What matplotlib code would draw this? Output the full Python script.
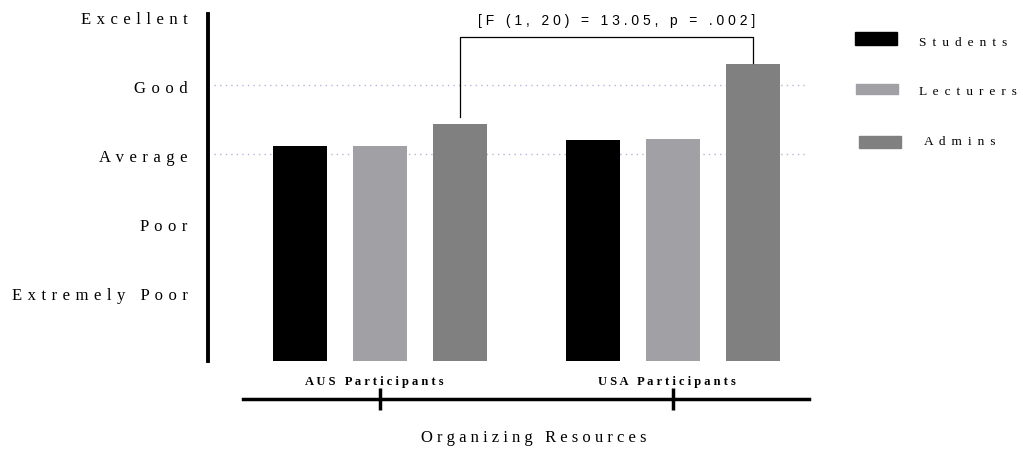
import matplotlib
matplotlib.use('Agg')
import matplotlib.pyplot as plt
from matplotlib.patches import Rectangle

# data
groups = ['AUS Participants', 'USA Participants']
series = ['Students', 'Lecturers', 'Admins']
colors = ['#000000', '#a1a1a5', '#808080']
values = {
    'Students': [3.11, 3.20],
    'Lecturers': [3.12, 3.22],
    'Admins': [3.43, 4.30],
}
rating_levels = [1, 2, 3, 4, 5]
rating_labels = ['Extremely Poor', 'Poor', 'Average', 'Good', 'Excellent']
stat_text = '[F (1, 20) = 13.05, p = .002]'
bracket_left, bracket_top, bracket_right = 3.54, 4.69, 4.32
x_title = 'Organizing Resources'

SERIF = 'Liberation Serif'
SANS = 'Liberation Sans'


def spaced(s, gap=' '):
    return gap.join(s)


fig = plt.figure(figsize=(10.23, 4.5), dpi=100)
ax = fig.add_axes([207.7 / 1023, 89.3 / 450, 601.3 / 1023, 346.7 / 450])

step = 80 / 293
width = 54 / 293
offsets = [-step, 0, step]
for name, col, off in zip(series, colors, offsets):
    xs = [g + off for g in range(len(groups))]
    ax.bar(xs, values[name], width=width, color=col, zorder=2)

ax.set_xlim(-0.588, 1.464)
ax.set_ylim(0, 5.03)

for lv in [3, 4]:
    ax.axhline(lv, xmin=0.01, xmax=0.995, color='#b4b4dc', lw=1.0,
               ls=(0, (1, 3)), zorder=1)

# spines
for s in ['top', 'right']:
    ax.spines[s].set_visible(False)
ax.spines['left'].set_linewidth(2.8)
ax.spines['bottom'].set_linewidth(2.5)
ax.spines['bottom'].set_position(('outward', 27.8))
ax.spines['bottom'].set_bounds(-0.468, 1.464)
ax.set_xticks(range(len(groups)))
ax.set_xticklabels([])
ax.tick_params(axis='x', direction='inout', length=15.8, width=2.5)
ax.set_yticks([])

# y labels
for lv, lab in zip(rating_levels, rating_labels):
    ax.text(-0.033, lv - 0.06, spaced(lab, ' \u200a'), transform=ax.get_yaxis_transform(),
            ha='right', va='center', fontsize=12, family=SERIF)

# group labels
for i, g in enumerate(groups):
    ax.text(i - 0.02, -0.06, spaced(g), transform=ax.get_xaxis_transform(),
            ha='center', va='center', fontsize=9, family=SERIF, weight='bold')

ax.text(0.526, -0.223, spaced(x_title), transform=ax.get_xaxis_transform(),
        ha='center', va='center', fontsize=12, family=SERIF, clip_on=False)

# significance bracket
xl = 0 + step
xr = 1 + step
ax.plot([xl, xl, xr, xr], [bracket_left, bracket_top, bracket_top, bracket_right],
        color='black', lw=0.9, zorder=3, clip_on=False)
ax.text((xl + xr) / 2 + 0.035, 4.93, spaced(stat_text), ha='center', va='center',
        fontsize=10, family=SANS, clip_on=False)

# legend drawn by hand
leg_rects = [(855, 32, 45), (856, 84, 94), (859, 136, 148)]
leg_text = [(919, 43), (919, 92), (924, 142)]
for name, col, (x0, y0, y1), (tx, ty) in zip(series, colors, leg_rects, leg_text):
    fig.patches.append(Rectangle((x0 / 1023, 1 - y1 / 450), 42 / 1023, (y1 - y0) / 450,
                                 transform=fig.transFigure, color=col))
    fig.text(tx / 1023, 1 - ty / 450, spaced(name, ' \u2009'), ha='left', va='center',
             fontsize=9.6, family=SERIF)

fig.savefig('out.png', dpi=100)
